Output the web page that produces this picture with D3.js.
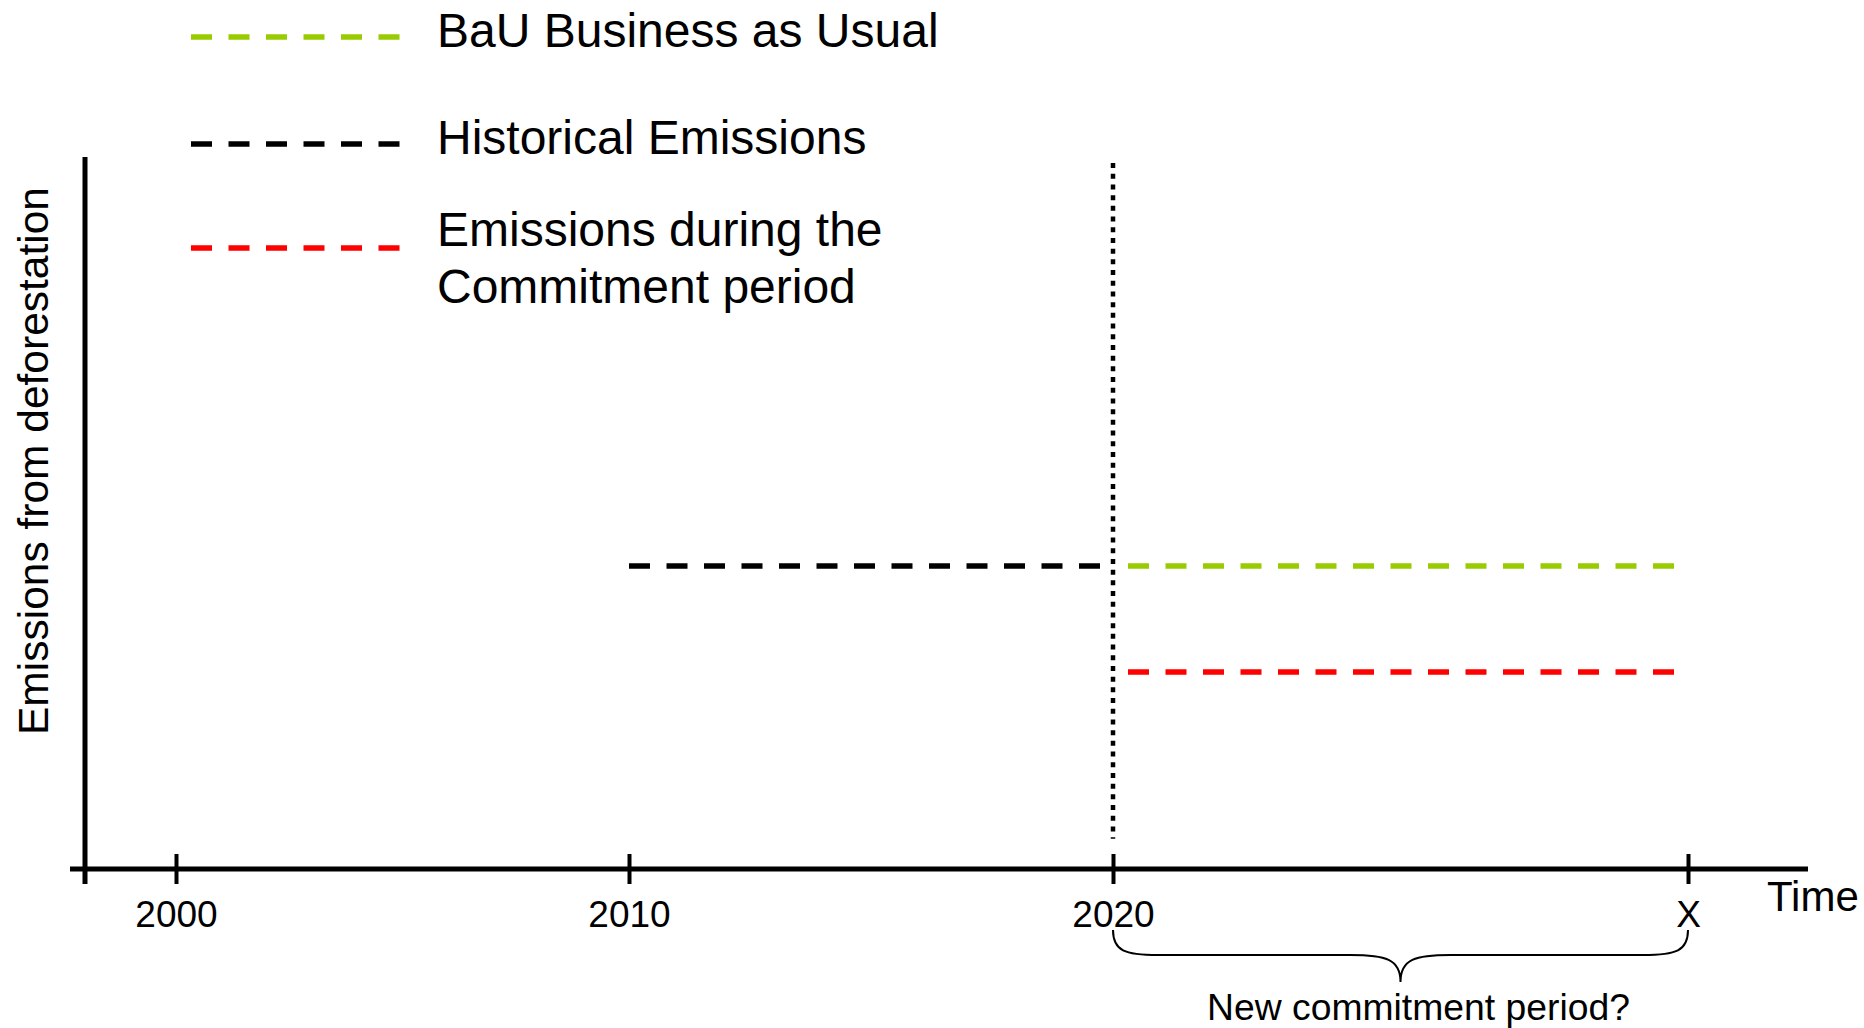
<!DOCTYPE html>
<html><head><meta charset="utf-8">
<script src="https://cdn.jsdelivr.net/npm/d3@7"></script>
<style>
html,body{margin:0;padding:0;background:#fff;}
svg{display:block;font-family:"Liberation Sans",Arial,sans-serif;}
</style></head>
<body>
<svg id="chart" width="1864" height="1028"></svg>
<script>
// ---- data ----
const tickValues = [2000, 2010, 2020, 2030];
const tickLabels = ["2000", "2010", "2020", "X"];
const seriesNames = ["BaU Business as Usual", "Historical Emissions", "Emissions during the\nCommitment period"];
const seriesColors = ["#99cc00", "#000000", "#ff0000"];
const historicalX = [2010, 2020];
const historicalY = [100, 100];
const bauX = [2020, 2030];
const bauY = [100, 100];
const commitX = [2020, 2030];
const commitY = [65, 65];
const markerYear = 2020;
const markerRange = [10, 233];
const braceRange = [2020, 2030];
const xLabel = "Time";
const yLabel = "Emissions from deforestation";
const braceLabel = "New commitment period?";

// ---- layout ----
const svg = d3.select("#chart");
const x = d3.scaleLinear()
  .domain([1997.2, 1998.6, 2000, 2010, 2020, 2030, 2032.1])
  .range([70, 85, 176, 629, 1113, 1688, 1808]);
const y = d3.scaleLinear().domain([0, 235]).range([869, 157]);
const yAxisYear = 1998.6;

const dash = "21,16.5";

// axes
svg.append("line").attr("x1", x(1997.2)).attr("x2", x(2032.1))
  .attr("y1", y(0)).attr("y2", y(0)).attr("stroke", "#000").attr("stroke-width", 5);
svg.append("line").attr("x1", x(yAxisYear)).attr("x2", x(yAxisYear))
  .attr("y1", y(235)).attr("y2", y(0) + 15).attr("stroke", "#000").attr("stroke-width", 5);

const xAxis = d3.axisBottom(x).tickValues(tickValues)
  .tickFormat((d, i) => tickLabels[i]).tickSize(15).tickPadding(0);
const gx = svg.append("g").attr("transform", `translate(0,${y(0)})`).call(xAxis);
gx.select(".domain").remove();
gx.selectAll(".tick line").attr("y1", -15).attr("y2", 15).attr("stroke", "#000").attr("stroke-width", 4);
gx.selectAll(".tick text").attr("y", 58).attr("dy", null)
  .attr("font-size", 37).attr("fill", "#000").attr("font-family", "Liberation Sans, Arial, sans-serif");

svg.append("text").attr("x", 1767).attr("y", 911).attr("font-size", 42).text(xLabel);
svg.append("text").attr("transform", "translate(48,461) rotate(-90)")
  .attr("text-anchor", "middle").attr("font-size", 42.5).text(yLabel);

// vertical dotted marker
svg.append("line").attr("x1", x(markerYear)).attr("x2", x(markerYear))
  .attr("y1", y(markerRange[1])).attr("y2", y(markerRange[0]))
  .attr("stroke", "#000").attr("stroke-width", 4.5).attr("stroke-dasharray", "5,5.7");

// series
const line = d3.line().x(d => x(d[0])).y(d => y(d[1]));
function drawSeries(xs, ys, color, offset) {
  svg.append("path").datum(xs.map((v, i) => [v, ys[i]]))
    .attr("d", line).attr("fill", "none").attr("stroke", color)
    .attr("stroke-width", 5.5).attr("stroke-dasharray", dash).attr("stroke-dashoffset", offset);
}
drawSeries(historicalX, historicalY, seriesColors[1], 0);
drawSeries(bauX, bauY, seriesColors[0], 22.5);
drawSeries(commitX, commitY, seriesColors[2], 22.5);

// legend
const legendRows = [37, 144, 248];
seriesNames.forEach((name, i) => {
  svg.append("line").attr("x1", 191).attr("x2", 400)
    .attr("y1", legendRows[i]).attr("y2", legendRows[i])
    .attr("stroke", seriesColors[i]).attr("stroke-width", 5.5).attr("stroke-dasharray", dash);
  const t = svg.append("text").attr("x", 437).attr("y", legendRows[i] + (i === 2 ? -2 : 10)).attr("font-size", 48);
  name.split("\n").forEach((s, j) => {
    t.append("tspan").attr("x", 437).attr("dy", j === 0 ? 0 : 57).text(s);
  });
});

// brace
const bx0 = x(braceRange[0]), bx1 = x(braceRange[1]), bm = (bx0 + bx1) / 2;
const yT = 930, yM = 955, yB = 982;
const p = d3.path();
p.moveTo(bx0, yT);
p.bezierCurveTo(bx0, yM - 4, bx0 + 12, yM, bx0 + 45, yM);
p.lineTo(bm - 50, yM);
p.bezierCurveTo(bm - 15, yM, bm, yM + 4, bm, yB);
p.bezierCurveTo(bm, yM + 4, bm + 15, yM, bm + 50, yM);
p.lineTo(bx1 - 45, yM);
p.bezierCurveTo(bx1 - 12, yM, bx1, yM - 4, bx1, yT);
svg.append("path").attr("d", p.toString()).attr("fill", "none").attr("stroke", "#000").attr("stroke-width", 2);
svg.append("text").attr("x", bm + 18).attr("y", 1020).attr("text-anchor", "middle")
  .attr("font-size", 37.3).text(braceLabel);
</script>
</body></html>
